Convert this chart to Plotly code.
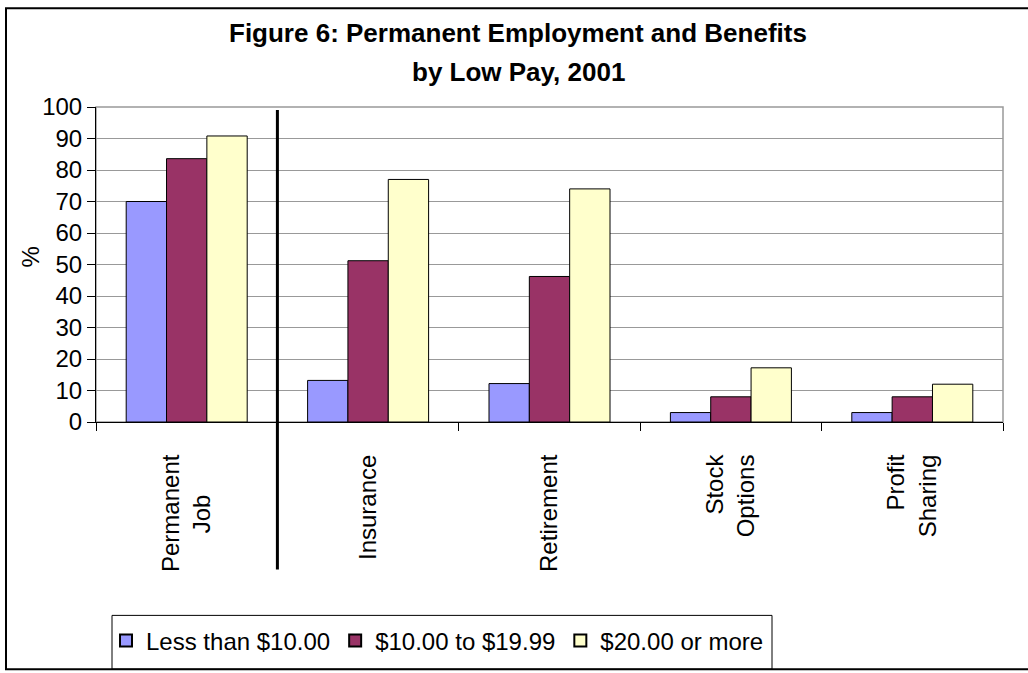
import plotly.graph_objects as go

NB = "\u00a0"
categories = ["Permanent<br>Job" + NB * 6, "Insurance", "Retirement", "Stock<br>Options", "Profit<br>Sharing"]
series_names = ["Less than $10.00", "$10.00 to $19.99", "$20.00 or more"]
less_than_10 = [70, 13.2, 12.2, 3, 3]
from_10_to_20 = [83.6, 51.2, 46.2, 8, 8]
twenty_or_more = [90.8, 77, 74, 17.2, 12]
y_ticks = [0, 10, 20, 30, 40, 50, 60, 70, 80, 90, 100]

colors = ["#9999FF", "#993366", "#FFFFCC"]
FONT = "Arial, Liberation Sans, sans-serif"

# plot area in pixels
W, H = 1028, 673
L, R, T, B = 96, 1003, 107, 423
pw, ph = R - L, B - T

def px_x(x):
    return (x - L) / pw

def px_y(y):
    return (B - y) / ph

fig = go.Figure()
for name, vals, col in zip(series_names, [less_than_10, from_10_to_20, twenty_or_more], colors):
    fig.add_trace(go.Bar(
        x=categories, y=vals, name=name,
        marker=dict(color=col, line=dict(color="black", width=1)),
        hoverinfo="skip",
    ))

fig.update_layout(
    width=W, height=H,
    margin=dict(l=L, r=W - R, t=T, b=H - B, pad=0),
    paper_bgcolor="white", plot_bgcolor="white",
    barmode="group", bargap=0.333, bargroupgap=0,
    font=dict(family=FONT, size=24, color="black"),
    showlegend=True,
    legend=dict(
        orientation="h", x=px_x(106), xanchor="left", y=px_y(641), yanchor="middle",
        bgcolor="rgba(0,0,0,0)", borderwidth=0,
        font=dict(family=FONT, size=24, color="black"),
        itemsizing="constant", traceorder="normal",
    ),
)

fig.update_yaxes(
    range=[0, 100], tickvals=y_ticks, ticks="outside", ticklen=8, tickcolor="black",
    showline=True, linecolor="black", linewidth=1,
    showgrid=True, gridcolor="#999999", gridwidth=1,
    tickfont=dict(family=FONT, size=24, color="black"),
    zeroline=False, fixedrange=True,
)
fig.update_xaxes(
    tickangle=-90, ticks="outside", ticklen=8, tickcolor="black", tickson="boundaries",
    showline=True, linecolor="black", linewidth=1, showgrid=False,
    tickfont=dict(family=FONT, size=24, color="black"),
    ticklabelstandoff=22, fixedrange=True,
)

# plot-area border (gray top & right)
fig.add_shape(type="rect", xref="paper", yref="paper", x0=0, x1=1, y0=0, y1=1,
              line=dict(color="#999999", width=1.5), layer="below")
# separator between Permanent Job and benefits
fig.add_shape(type="line", xref="x", yref="paper", x0=0.5, x1=0.5,
              y0=px_y(571), y1=px_y(110), line=dict(color="black", width=3))
# outer chart border
fig.add_shape(type="rect", xref="paper", yref="paper",
              x0=px_x(6), x1=px_x(1040), y0=px_y(671), y1=px_y(8),
              line=dict(color="black", width=2))
# legend box
fig.add_shape(type="rect", xref="paper", yref="paper",
              x0=px_x(112), x1=px_x(772), y0=px_y(671), y1=px_y(617),
              line=dict(color="black", width=1))

# titles
fig.add_annotation(text="<b>Figure 6: Permanent Employment and Benefits</b>",
                   xref="paper", yref="paper", x=px_x(518), y=px_y(33),
                   xanchor="center", yanchor="middle", showarrow=False,
                   font=dict(family=FONT, size=26, color="black"))
fig.add_annotation(text="<b>by Low Pay, 2001</b>",
                   xref="paper", yref="paper", x=px_x(518), y=px_y(72),
                   xanchor="center", yanchor="middle", showarrow=False,
                   font=dict(family=FONT, size=26, color="black"))
# y-axis title
fig.add_annotation(text="%", textangle=-90,
                   xref="paper", yref="paper", x=px_x(31), y=px_y(258),
                   xanchor="center", yanchor="middle", showarrow=False,
                   font=dict(family=FONT, size=24, color="black"))

fig.write_html("out.html", config={"displayModeBar": False},
               post_script="document.body.style.margin='0px';")
